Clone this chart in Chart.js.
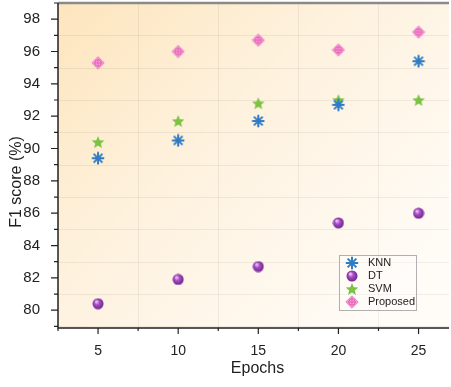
<!DOCTYPE html>
<html>
<head>
<meta charset="utf-8">
<script src="https://cdn.jsdelivr.net/npm/chart.js@4"></script>
<style>
  html, body { margin: 0; padding: 0; background: #fff; }
  #wrap { width: 451px; height: 387px; }
</style>
</head>
<body>
<div id="wrap"><canvas id="f1-chart" width="451" height="387"></canvas></div>
<script>
var epochs = [5, 10, 15, 20, 25];
var knn = [89.4, 90.5, 91.7, 92.7, 95.4];
var dt = [80.4, 81.9, 82.7, 85.4, 86.0];
var svm = [90.4, 91.7, 92.8, 93.0, 93.0];
var proposed = [95.3, 96.0, 96.7, 96.1, 97.2];
var yTicks = [80, 82, 84, 86, 88, 90, 92, 94, 96, 98];
var labels = ['KNN', 'DT', 'SVM', 'Proposed'];

var colors = {
    knn: '#2f7cc4',
    dt: '#9a3db8',
    svm: '#7cc243',
    proposed: '#f28fd0'
};

function pts(ys) {
    return epochs.map(function (e, i) { return { x: e, y: ys[i] }; });
}

// marker images
function makeSphere() {
    var c = document.createElement('canvas');
    c.width = 12; c.height = 12;
    var g = c.getContext('2d');
    var grd = g.createRadialGradient(4.3, 3.8, 0.8, 6, 6, 6);
    grd.addColorStop(0, '#e9b8f4');
    grd.addColorStop(0.35, '#a64dc3');
    grd.addColorStop(1, '#6c2089');
    g.fillStyle = grd;
    g.beginPath(); g.arc(6, 6, 5.5, 0, Math.PI * 2); g.fill();
    return c;
}

function makeStar() {
    var c = document.createElement('canvas');
    c.width = 14; c.height = 14;
    var g = c.getContext('2d');
    g.fillStyle = colors.svm;
    g.beginPath();
    for (var i = 0; i < 10; i++) {
        var r = i % 2 === 0 ? 6.6 : 3.0;
        var a = -Math.PI / 2 + i * Math.PI / 5;
        var px = 7 + r * Math.cos(a), py = 7.6 + r * Math.sin(a);
        if (i === 0) g.moveTo(px, py); else g.lineTo(px, py);
    }
    g.closePath(); g.fill();
    return c;
}

function makeDiamond() {
    var c = document.createElement('canvas');
    c.width = 14; c.height = 14;
    var g = c.getContext('2d');
    g.fillStyle = '#f6a6da';
    g.strokeStyle = '#ee7cc6';
    g.lineWidth = 1;
    g.beginPath();
    g.moveTo(7, 0.8); g.lineTo(13.2, 7); g.lineTo(7, 13.2); g.lineTo(0.8, 7); g.closePath();
    g.fill(); g.stroke();
    g.strokeStyle = '#e35fb4';
    g.beginPath(); g.arc(7, 7, 3.2, 0, Math.PI * 2); g.stroke();
    g.beginPath();
    g.moveTo(7, 2.8); g.lineTo(7, 11.2);
    g.moveTo(2.8, 7); g.lineTo(11.2, 7);
    g.stroke();
    return c;
}

function makeAsterisk() {
    var c = document.createElement('canvas');
    c.width = 14; c.height = 14;
    var g = c.getContext('2d');
    g.strokeStyle = colors.knn;
    g.lineWidth = 2;
    g.lineCap = 'butt';
    g.beginPath();
    for (var i = 0; i < 4; i++) {
        var a = i * Math.PI / 4;
        g.moveTo(7 - 6.2 * Math.cos(a), 7 - 6.2 * Math.sin(a));
        g.lineTo(7 + 6.2 * Math.cos(a), 7 + 6.2 * Math.sin(a));
    }
    g.stroke();
    return c;
}

var markers = [makeAsterisk(), makeSphere(), makeStar(), makeDiamond()];

// drop the label overflow padding so the plot area sits where the reference has it
function noPad(s) {
    s.paddingTop = 0; s.paddingBottom = 0; s.paddingLeft = 0; s.paddingRight = 0;
}

var frame = {
    id: 'frame',
    beforeDraw: function (chart) {
        var ctx = chart.ctx, a = chart.chartArea;
        var xs = chart.scales.x, ys = chart.scales.y;
        ctx.save();
        var grd = ctx.createLinearGradient(a.left, a.top, a.left + 330, a.top + 330);
        grd.addColorStop(0, '#fde5bd');
        grd.addColorStop(0.45, '#fef2df');
        grd.addColorStop(1, '#fffcf8');
        ctx.fillStyle = grd;
        ctx.fillRect(a.left, a.top, a.right - a.left, a.bottom - a.top);
        // faint grid at minor positions
        ctx.strokeStyle = 'rgba(0,0,0,0.06)';
        ctx.lineWidth = 1;
        ctx.beginPath();
        for (var v = 79; v <= 99; v += 2) {
            var py = Math.round(ys.getPixelForValue(v)) + 0.5;
            ctx.moveTo(a.left, py); ctx.lineTo(a.right, py);
        }
        for (var u = 7.5; u < 27; u += 5) {
            var px = Math.round(xs.getPixelForValue(u)) + 0.5;
            ctx.moveTo(px, a.top); ctx.lineTo(px, a.bottom);
        }
        ctx.stroke();
        ctx.restore();
    },
    afterDatasetsDraw: function (chart) {
        var ctx = chart.ctx, a = chart.chartArea;
        var xs = chart.scales.x, ys = chart.scales.y;
        ctx.save();
        // top border
        ctx.strokeStyle = '#8a8a8a';
        ctx.lineWidth = 2.5;
        ctx.beginPath(); ctx.moveTo(a.left, a.top); ctx.lineTo(a.right, a.top); ctx.stroke();
        // axes
        ctx.strokeStyle = '#222';
        ctx.lineWidth = 1.5;
        ctx.beginPath();
        ctx.moveTo(a.left, a.top); ctx.lineTo(a.left, a.bottom + 0.5);
        ctx.moveTo(a.left - 0.5, a.bottom); ctx.lineTo(a.right, a.bottom);
        ctx.stroke();
        // ticks
        ctx.lineWidth = 1.2;
        ctx.beginPath();
        for (var v = 79; v <= 99; v++) {
            var py = ys.getPixelForValue(v);
            var len = v % 2 === 0 ? 7 : 4;
            ctx.moveTo(a.left, py); ctx.lineTo(a.left - len, py);
        }
        for (var u = 2.5; u < 27; u += 2.5) {
            var px = xs.getPixelForValue(u);
            var l2 = (u % 5 === 0) ? 6 : 3;
            ctx.moveTo(px, a.bottom); ctx.lineTo(px, a.bottom + l2);
        }
        ctx.stroke();
        // axis titles
        ctx.fillStyle = '#1e1e1e';
        ctx.font = '16px "Liberation Sans", Arial, sans-serif';
        ctx.textAlign = 'center';
        ctx.textBaseline = 'middle';
        ctx.fillText('Epochs', (a.left + a.right) / 2 + 4, 369);
        ctx.translate(17, 182);
        ctx.rotate(-Math.PI / 2);
        ctx.fillText('F1 score (%)', 0, 0);
        ctx.restore();

        // legend
        ctx.save();
        var bx = 339, by = 255, bw = 77, bh = 55;
        ctx.fillStyle = 'rgba(255,255,255,0.35)';
        ctx.fillRect(bx, by, bw, bh);
        ctx.strokeStyle = '#b0b0b0';
        ctx.lineWidth = 1;
        ctx.strokeRect(bx + 0.5, by + 0.5, bw, bh);
        ctx.font = '11px "Liberation Sans", Arial, sans-serif';
        ctx.fillStyle = '#222';
        ctx.textAlign = 'left';
        ctx.textBaseline = 'middle';
        chart.data.datasets.forEach(function (ds, i) {
            var ry = by + 8 + i * 13;
            var m = markers[i];
            ctx.drawImage(m, bx + 13 - m.width / 2, ry - m.height / 2);
            ctx.fillText(ds.label, bx + 29, ry);
        });
        ctx.restore();
    }
};

var data = {
    datasets: [
        { label: labels[0], data: pts(knn), pointStyle: markers[0], pointRadius: 7 },
        { label: labels[1], data: pts(dt), pointStyle: markers[1], pointRadius: 6 },
        { label: labels[2], data: pts(svm), pointStyle: markers[2], pointRadius: 7 },
        { label: labels[3], data: pts(proposed), pointStyle: markers[3], pointRadius: 7 }
    ]
};

var options = {
    responsive: false,
    animation: false,
    layout: { autoPadding: false, padding: { left: 0, right: 2, top: 3, bottom: 0 } },
    plugins: { legend: { display: false }, tooltip: { enabled: false } },
    scales: {
        x: {
            type: 'linear',
            min: 2.5,
            max: 26.9,
            grid: { display: false },
            border: { display: false },
            afterBuildTicks: function (s) { s.ticks = epochs.map(function (v) { return { value: v }; }); },
            afterFit: function (s) { s.height = 59; noPad(s); },
            ticks: { font: { family: '"Liberation Sans", Arial, sans-serif', size: 14 }, color: '#222', padding: 7, maxRotation: 0 }
        },
        y: {
            min: 78.9,
            max: 99,
            grid: { display: false },
            border: { display: false },
            afterBuildTicks: function (s) { s.ticks = yTicks.map(function (v) { return { value: v }; }); },
            afterFit: function (s) { s.width = 58; noPad(s); },
            ticks: { font: { family: '"Liberation Sans", Arial, sans-serif', size: 15 }, color: '#222', padding: 10 }
        }
    }
};

var ctx = document.getElementById('f1-chart');
var g = new Chart(ctx, {
    type: 'scatter',
    data: data,
    options: options,
    plugins: [frame]
});
</script>
</body>
</html>
